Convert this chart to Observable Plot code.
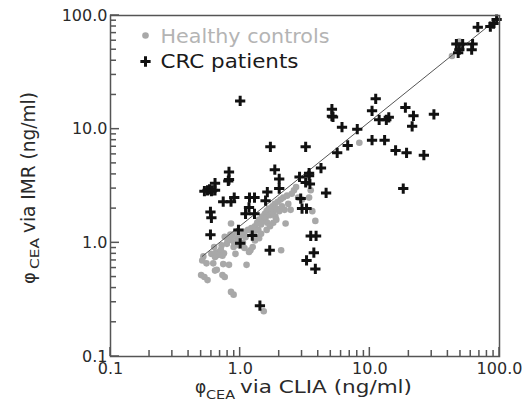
<!DOCTYPE html>
<html>
<head>
<meta charset="utf-8">
<script src="https://cdn.jsdelivr.net/npm/d3@7"></script>
<script src="https://cdn.jsdelivr.net/npm/@observablehq/plot@0.6"></script>
<style>
  html, body { margin: 0; padding: 0; background: #fff; }
  #chart { width: 526px; height: 416px; }
</style>
</head>
<body>
<div id="chart"></div>
<script>
// ---- data ----
const healthyX = [0.51,0.52,0.55,0.50,0.53,0.56,0.60,0.63,0.64,0.65,0.67,0.69,0.70,0.71,0.73,0.75,0.62,0.66,0.64,0.74,0.73,0.76,0.82,0.85,0.89,
  0.76,0.79,0.80,0.82,0.84,0.87,0.85,0.85,0.89,0.92,0.90,0.95,0.97,1.00,1.03,1.05,1.08,1.10,1.12,1.15,1.17,1.20,1.22,1.25,1.25,
  1.30,1.32,1.35,1.38,1.40,1.45,1.48,1.50,1.52,1.55,1.57,1.60,1.62,1.66,1.70,1.75,1.77,1.80,1.85,1.87,1.90,1.95,2.00,2.05,2.07,
  2.10,2.15,2.20,2.24,2.30,2.35,2.45,2.50,2.60,2.70,2.80,3.00,3.50,3.60,3.80,3.40,8.30,43,49,1.30,1.40,1.45,1.60,1.70,1.80,1.90,0.93,0.98,1.08,0.72];
const healthyY = [0.70,0.76,0.66,0.52,0.50,0.47,0.80,0.92,0.75,0.82,0.78,0.83,0.79,0.87,0.77,0.81,0.66,0.58,0.57,0.65,0.52,0.50,0.64,0.37,0.35,
  1.13,0.98,1.05,1.10,1.18,1.17,1.06,1.48,0.92,0.80,1.00,1.10,1.05,1.15,1.20,1.00,1.25,1.12,0.64,1.30,0.83,0.86,1.35,0.92,1.20,
  1.40,1.28,1.50,1.30,1.60,1.45,1.70,1.55,0.25,1.80,1.65,1.90,1.50,2.00,1.75,1.95,2.10,1.85,2.20,1.70,2.00,2.30,1.90,2.40,0.86,
  2.10,2.50,1.95,1.48,2.60,2.20,1.95,2.70,2.90,3.10,2.50,2.40,2.90,1.90,1.56,2.50,7.60,44,59,1.05,1.10,1.20,1.30,1.40,1.50,1.60,1.25,0.95,0.90,0.95];

const crcX = [1.0,0.53,0.56,0.58,0.60,0.64,0.64,0.61,0.59,0.60,0.59,0.74,0.85,0.90,0.82,0.82,0.81,0.97,1.0,1.18,1.29,1.17,1.10,1.29,1.24,
  1.62,1.57,1.71,1.85,2.0,2.0,1.69,1.42,2.87,3.2,3.4,3.2,3.45,3.4,2.93,3.0,3.25,3.5,3.85,3.7,3.25,3.8,
  4.2,4.6,5.1,5.1,5.2,5.6,6.1,6.75,8.0,10.4,11.1,10.4,11.8,13.0,13.4,14.0,15.8,18.8,19.2,18.1,21.7,21.2,26.1,31.2,
  46.5,49,48,52,62,61,68,85,90,95];
const crcY = [17.7,2.85,2.9,2.95,2.85,2.9,3.35,2.9,1.87,1.66,1.18,2.3,2.3,2.5,4.2,3.6,3.5,1.3,0.99,2.5,2.5,2.05,1.8,1.8,1.16,
  2.8,2.35,7.0,4.4,3.65,3.0,0.86,0.28,3.8,7.0,4.1,3.4,3.3,3.9,2.45,2.0,2.0,1.15,1.15,0.82,0.7,0.59,
  4.55,2.75,15,13.0,12.8,6.2,10.4,7.2,10.0,14.5,18.5,8.0,12.1,8.0,12.1,12.7,6.5,15.5,6.2,3.0,13.1,10.6,5.9,13.5,
  56,50,47,56,56,50,79,80,85,92];

const fitX = [0.51, 98];
const fitY = [0.76, 95];

const majorTicks = [0.1, 1, 10, 100];
const majorTickLabels = ["0.1", "1.0", "10.0", "100.0"];
const minorTicks = [0.2,0.3,0.4,0.5,0.6,0.7,0.8,0.9,2,3,4,5,6,7,8,9,20,30,40,50,60,70,80,90];
const seriesNames = ["Healthy controls", "CRC patients"];

// ---- build tables ----
const healthy = healthyX.map((x, i) => ({x, y: healthyY[i]}));
const crc = crcX.map((x, i) => ({x, y: crcY[i]}));
const fit = fitX.map((x, i) => ({x, y: fitY[i]}));
const fmt = d => majorTickLabels[majorTicks.indexOf(d)];

const axisColor = "#555555";
const textColor = "#2a2a2a";
const grayDot = "#a8a8a8";

const chart = Plot.plot({
  width: 526,
  height: 416,
  marginLeft: 110,
  marginRight: 27,
  marginTop: 15,
  marginBottom: 60,
  style: {fontFamily: "'DejaVu Sans', sans-serif", background: "#fff"},
  x: {type: "log", domain: [0.1, 100]},
  y: {type: "log", domain: [0.1, 100]},
  marks: [
    Plot.dot(healthy, {x: "x", y: "y", r: 3.3, fill: grayDot}),
    Plot.line(fit, {x: "x", y: "y", stroke: "#555", strokeWidth: 1}),
    Plot.dot(crc, {x: "x", y: "y", symbol: "plus", r: 3.4, stroke: "#111", strokeWidth: 3}),
    // tick labels
    Plot.axisX({ticks: majorTicks, tickSize: 0, tickPadding: 6, tickFormat: fmt, fill: textColor, fontSize: 16, label: null}),
    Plot.axisY({ticks: majorTicks, tickSize: 0, tickPadding: 3, tickFormat: fmt, fill: textColor, fontSize: 16, label: null}),
    Plot.frame({stroke: axisColor, strokeWidth: 1.5}),
    // legend
    Plot.dot([seriesNames[0]], {frameAnchor: "top-left", dx: 35, dy: 20, r: 3.3, fill: grayDot}),
    Plot.dot([seriesNames[1]], {frameAnchor: "top-left", dx: 35, dy: 46, r: 3.4, symbol: "plus", stroke: "#111", strokeWidth: 3}),
    Plot.text([seriesNames[0]], {frameAnchor: "top-left", text: d => d, dx: 50, dy: 27, textAnchor: "start", lineAnchor: "bottom", fontSize: 19, fill: "#b4b4b4"}),
    Plot.text([seriesNames[1]], {frameAnchor: "top-left", text: d => d, dx: 50, dy: 52, textAnchor: "start", lineAnchor: "bottom", fontSize: 19, fill: "#1a1a1a"})
  ]
});

document.getElementById("chart").appendChild(chart);

const svg = d3.select(chart);
svg.selectAll("text").each(function () {
  const t = this.textContent;
  if (t === seriesNames[0]) d3.select(this).attr("textLength", 169).attr("lengthAdjust", "spacingAndGlyphs");
  if (t === seriesNames[1]) d3.select(this).attr("textLength", 138).attr("lengthAdjust", "spacingAndGlyphs");
});

// inward ticks, positioned through the plot's own x and y scales
const sx = chart.scale("x"), sy = chart.scale("y");
const xs = d3.scaleLog().domain(sx.domain).range(sx.range);
const ys = d3.scaleLog().domain(sy.domain).range(sy.range);
const x0 = xs(xs.domain()[0]);
const y0 = ys(ys.domain()[0]);
const tickG = svg.append("g").attr("stroke", axisColor).attr("stroke-width", 1.5).attr("fill", "none");
[[minorTicks, 6], [majorTicks, 9]].forEach(([ticks, len]) => {
  ticks.forEach(t => {
    tickG.append("line").attr("x1", xs(t)).attr("x2", xs(t)).attr("y1", y0).attr("y2", y0 - len);
    tickG.append("line").attr("y1", ys(t)).attr("y2", ys(t)).attr("x1", x0).attr("x2", x0 + len);
  });
});

// axis titles with subscripts
const tg = svg.append("g").attr("fill", textColor).attr("text-anchor", "start")
  .attr("font-family", "'DejaVu Sans', sans-serif");
// x title
tg.append("text").attr("x", 195).attr("y", 393).attr("font-size", 17).text("φ");
tg.append("text").attr("x", 206).attr("y", 399).attr("font-size", 12.5).attr("textLength", 29).attr("lengthAdjust", "spacingAndGlyphs").text("CEA");
tg.append("text").attr("x", 240).attr("y", 393).attr("font-size", 18.5).attr("textLength", 172).attr("lengthAdjust", "spacingAndGlyphs").text("via CLIA (ng/ml)");
// y title (rotated)
tg.append("text").attr("transform", "translate(35,284) rotate(-90)").attr("font-size", 18).text("φ");
tg.append("text").attr("transform", "translate(39,269) rotate(-90)").attr("font-size", 12.5).attr("textLength", 31).attr("lengthAdjust", "spacingAndGlyphs").text("CEA");
tg.append("text").attr("transform", "translate(35,233) rotate(-90)").attr("font-size", 19).attr("textLength", 141).attr("lengthAdjust", "spacingAndGlyphs").text("via IMR (ng/ml)");
</script>
</body>
</html>
